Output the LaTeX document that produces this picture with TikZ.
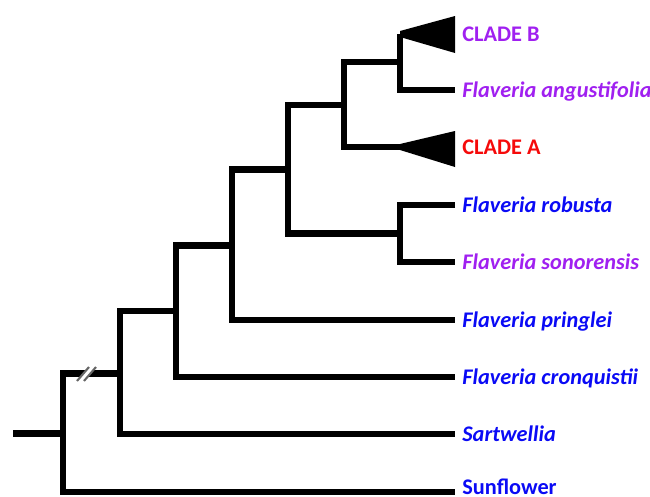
\documentclass[tikz,border=0pt]{standalone}
\usepackage{fontspec}
\setmainfont{Carlito}
\usepackage{xcolor}
\usepackage{tikz}
\usetikzlibrary{calc}

\definecolor{taxpurple}{RGB}{160,32,240}
\definecolor{taxblue}{RGB}{10,10,245}
\definecolor{taxred}{RGB}{245,10,10}

\begin{document}
\begin{tikzpicture}[x=0.02cm, y=-0.02cm,
  branch/.style={line width=3.8pt, line join=miter},
  taxon/.style={anchor=base west, inner sep=0pt, yshift=-4.4pt, font=\fontsize{12.7}{15}\selectfont\bfseries\itshape},
  cladename/.style={anchor=base west, inner sep=0pt, yshift=-4.4pt, font=\fontsize{12.7}{15}\selectfont\bfseries}]
\useasboundingbox (0,0) rectangle (650,497);

% Tips of the tree
\coordinate (tipB) at (400,34);
\coordinate (tipAng) at (455,90);
\coordinate (tipA) at (403,147);
\coordinate (tipRob) at (455,205);
\coordinate (tipSon) at (455,262);
\coordinate (tipPri) at (455,320);
\coordinate (tipCro) at (455,377);
\coordinate (tipSar) at (455,434);
\coordinate (tipSun) at (455,492);

% Internal nodes
\coordinate (root) at (63,433.5);
\coordinate (stub) at (13,433.5);
\coordinate (n1) at (120,373.5);
\coordinate (n2) at (176,311);
\coordinate (n3) at (232,245.5);
\coordinate (n4) at (288,169.5);
\coordinate (n5) at (344,105);
\coordinate (n6) at (400,62);
\coordinate (n7) at (400,233.5);

% Branches
\draw[branch] (stub) -- (root);
\draw[branch] (n1) -| (root) |- (tipSun);
\draw[branch] (n2) -| (n1) |- (tipSar);
\draw[branch] (n3) -| (n2) |- (tipCro);
\draw[branch] (n4) -| (n3) |- (tipPri);
\draw[branch] (n5) -| (n4) |- (n7);
\draw[branch] (n6) -| (n5) |- (tipA);
\draw[branch] (tipB) -- (n6) |- (tipAng);
\draw[branch] (tipRob) -| (n7) |- (tipSon);

% Collapsed clades
\fill ($(tipB)+(0,-3)$) -- (455,16) -- (455,53) -- ($(tipB)+(0,3)$) -- cycle;
\fill ($(tipA)+(-3,-3)$) -- (455,131) -- (455,167) -- ($(tipA)+(-3,3)$) -- cycle;

% Break on the branch
\fill[white] (77,381) -- (89,367) -- (96,367) -- (84,381) -- cycle;
\draw[gray!80!black, line width=1.2pt] (77,381) -- (89,367);
\draw[gray!80!black, line width=1.2pt] (84,381) -- (96,367);

% Labels
\node[cladename, taxpurple] (labB) at (462,34) {CLADE B};
\node[taxon, taxpurple] (labAng) at (462,90) {Flaveria angustifolia};
\node[cladename, taxred] (labA) at (462,147) {CLADE A};
\node[taxon, taxblue] (labRob) at (462,205) {Flaveria robusta};
\node[taxon, taxpurple] (labSon) at (462,262) {Flaveria sonorensis};
\node[taxon, taxblue] (labPri) at (462,320) {Flaveria pringlei};
\node[taxon, taxblue] (labCro) at (462,377) {Flaveria cronquistii};
\node[taxon, taxblue] (labSar) at (462,434) {Sartwellia};
\node[cladename, taxblue] (labSun) at (462,487) {Sunflower};

\end{tikzpicture}
\end{document}
